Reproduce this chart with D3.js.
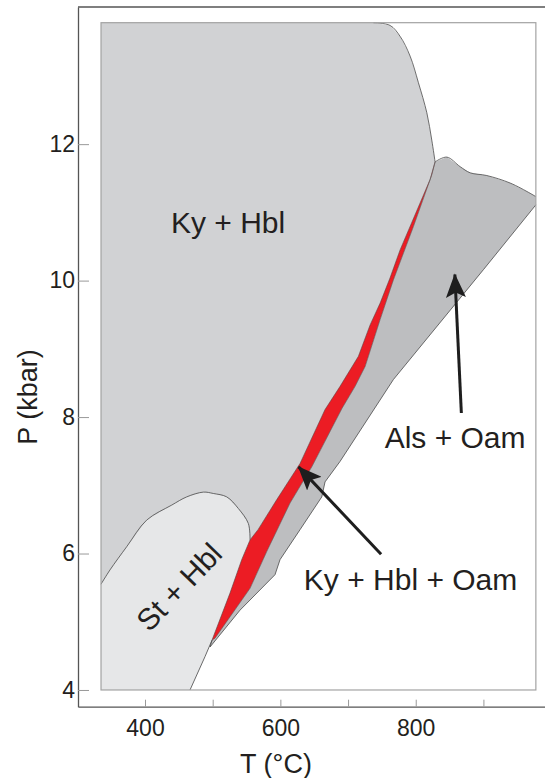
<!DOCTYPE html>
<html><head><meta charset="utf-8">
<script src="https://cdn.jsdelivr.net/npm/d3@7"></script>
<style>html,body{margin:0;padding:0;background:#fff;} svg{display:block;font-family:"Liberation Sans",Arial,Helvetica,sans-serif;}</style>
</head><body><svg id="c" width="545" height="778"></svg>
<script>
// ---- data (T in °C, P in kbar) ----
const tTicks = [400, 500, 600, 700, 800, 900];
const tLabels = [400, 600, 800];
const pTicks = [4, 6, 8, 10, 12];
const plotBoxT = [335, 977.5];
const plotBoxP = [4, 13.78];

// Ky + Hbl upper boundary (top edge to apex)
const kyHblBoundary = [[335,13.78],[737.4,13.78],[762.1,13.74],[776.9,13.58],[791.7,13.29],[804.0,12.90],[816.4,12.46],[823.7,12.06],[828.6,11.74]];
// red field (Ky + Hbl + Oam): left edge (apex -> tip)
const redLeft = [[828.6,11.74],[821.2,11.48],[776.9,10.45],[762.1,10.04],[747.4,9.67],[732.6,9.35],[715.3,8.89],[688.2,8.45],[666.0,8.11],[629.1,7.32],[594.7,6.79],[567.0,6.35],[555.2,6.20],[542.9,5.91],[525.6,5.42],[499.0,4.73]];
// red field right edge (tip -> apex)
const redRight = [[499.0,4.73],[503.5,4.76],[555.2,5.49],[579.9,6.03],[614.3,6.74],[646.4,7.27],[691.2,8.13],[710.4,8.45],[725.2,8.74],[747.4,9.43],[767.0,10.01],[796.5,10.79],[823.7,11.55],[828.6,11.74]];
// Als + Oam upper boundary (apex -> right edge)
const alsOamTop = [[828.6,11.74],[845.9,11.81],[865.6,11.67],[880.4,11.58],[905.0,11.54],[939.5,11.43],[969.0,11.28],[977.5,11.23]];
// Als + Oam lower boundary (right edge -> tip)
const alsOamLower = [[977.5,11.11],[900.0,10.16],[767.0,8.55],[688.2,7.35],[666.0,7.05],[661.2,6.83],[629.1,6.35],[599.5,5.91],[592.1,5.69],[540.4,5.17],[496.1,4.63],[499.0,4.73]];
// St + Hbl upper boundary (left edge -> red field)
const stHblTop = [[335,5.55],[348.3,5.76],[373.0,6.10],[402.5,6.49],[439.5,6.71],[461.6,6.83],[486.2,6.90],[500.9,6.88],[520.8,6.83],[537.9,6.66],[552.7,6.44],[555.2,6.20]];
// St + Hbl lower boundary (tip -> bottom)
const stHblLower = [[499.0,4.73],[488.7,4.49],[466.5,4.0]];

const labels = [
  {text:"Ky + Hbl", T:522.7, P:10.70, rot:0},
  {text:"Als + Oam", T:858.2, P:7.54, rot:0},
  {text:"Ky + Hbl + Oam", T:792.4, P:5.47, rot:0},
  {text:"St + Hbl", T:450.3, P:5.51, rot:-46}
];
const arrows = [
  {from:[867.4,8.06], to:[857.8,10.09]},
  {from:[748.8,5.99], to:[626.9,7.27]}
];

// ---- scales ----
const svg = d3.select("#c");
const x = d3.scaleLinear().domain([301, 991]).range([78, 545]);
const y = d3.scaleLinear().domain([3.755, 14.01]).range([706.7, 7]);
const line = d3.line().x(d => x(d[0])).y(d => y(d[1]));
const smooth = d3.line().x(d => x(d[0])).y(d => y(d[1])).curve(d3.curveCatmullRom.alpha(0.5));

// plot box
svg.append("rect")
  .attr("x", x(plotBoxT[0])).attr("y", y(plotBoxP[1]))
  .attr("width", x(plotBoxT[1]) - x(plotBoxT[0]))
  .attr("height", y(plotBoxP[0]) - y(plotBoxP[1]))
  .attr("fill", "#fff").attr("stroke", "none");

// Ky + Hbl
const kyPoly = [[335,4]].concat(kyHblBoundary, redLeft.slice(1), stHblLower.slice(1));
svg.append("path").attr("d", line(kyPoly) + "Z").attr("fill", "#d1d2d4");
// St + Hbl
const stPoly = stHblTop.concat(redLeft.slice(redLeft.findIndex(d => d[0] === 555.2) + 1), stHblLower.slice(1), [[335,4]]);
svg.append("path").attr("d", line(stPoly) + "Z").attr("fill", "#e6e7e8");
// Als + Oam
const alsPoly = redRight.concat(alsOamTop.slice(1), alsOamLower);
svg.append("path").attr("d", line(alsPoly) + "Z").attr("fill", "#bdbec0");
// red
const redPoly = redLeft.concat(redRight.slice(1));
svg.append("path").attr("d", line(redPoly) + "Z").attr("fill", "#ec1c24");

// boundaries
const bnd = (pts, gen, w, c) => svg.append("path").attr("d", gen(pts)).attr("fill", "none")
  .attr("stroke", c || "#4a4a4a").attr("stroke-width", w || 0.8).attr("stroke-linejoin", "round");
bnd(kyHblBoundary.slice(1), smooth);
bnd(stHblTop, smooth);
bnd(stHblLower, line);
bnd(redLeft, line, 0.6, "#5a3a3a");
bnd(redRight, line, 0.6, "#555");
bnd(alsOamTop, smooth);
bnd(alsOamLower, line);

// plot box border
svg.append("rect")
  .attr("x", x(plotBoxT[0])).attr("y", y(plotBoxP[1]))
  .attr("width", x(plotBoxT[1]) - x(plotBoxT[0]))
  .attr("height", y(plotBoxP[0]) - y(plotBoxP[1]))
  .attr("fill", "none").attr("stroke", "#a3a3a3").attr("stroke-width", 1.2);

// axes
const xAxis = d3.axisBottom(x).tickValues(tTicks).tickSize(-7).tickSizeOuter(0).tickPadding(13)
  .tickFormat(d => tLabels.includes(d) ? d : "");
const gx = svg.append("g").attr("transform", `translate(0,${y.range()[0]})`).call(xAxis);
const yAxis = d3.axisLeft(y).tickValues(pTicks).tickSize(-11).tickSizeOuter(0).tickPadding(3);
const gy = svg.append("g").attr("transform", `translate(${x.range()[0]},0)`).call(yAxis);
[gx, gy].forEach(g => {
  g.select(".domain").attr("stroke", "#555").attr("stroke-width", 1.3);
  g.selectAll(".tick line").attr("stroke", "#999").attr("stroke-width", 1);
  g.selectAll(".tick text").attr("fill", "#231f20").attr("font-size", 23)
    .attr("font-family", '"Liberation Sans",Arial,sans-serif');
});
// top frame line
svg.append("line").attr("x1", x.range()[0]).attr("x2", x.range()[1])
  .attr("y1", y.range()[1]).attr("y2", y.range()[1]).attr("stroke", "#555").attr("stroke-width", 1.3);

// axis titles
svg.append("text").attr("x", 276).attr("y", 773).attr("text-anchor", "middle")
  .attr("font-size", 27).attr("fill", "#231f20").text("T (°C)");
svg.append("text").attr("transform", "translate(37,397) rotate(-90)").attr("text-anchor", "middle")
  .attr("font-size", 27).attr("fill", "#231f20").text("P (kbar)");

// arrows
const defs = svg.append("defs");
defs.append("marker").attr("id", "ah").attr("viewBox", "0 0 24 20").attr("refX", 23).attr("refY", 10)
  .attr("markerWidth", 24).attr("markerHeight", 20).attr("markerUnits", "userSpaceOnUse").attr("orient", "auto")
  .append("path").attr("d", "M0,0 L24,10 L0,20 L5,10 Z").attr("fill", "#1e1e1e");
arrows.forEach(a => {
  svg.append("line").attr("x1", x(a.from[0])).attr("y1", y(a.from[1]))
    .attr("x2", x(a.to[0])).attr("y2", y(a.to[1]))
    .attr("stroke", "#1e1e1e").attr("stroke-width", 3).attr("marker-end", "url(#ah)");
});

// region labels
labels.forEach(l => {
  const t = svg.append("text").attr("text-anchor", "middle").attr("font-size", 30).attr("fill", "#231f20").text(l.text);
  if (l.rot) t.attr("transform", `translate(${x(l.T)},${y(l.P)}) rotate(${l.rot})`).attr("dy", "0.35em");
  else t.attr("x", x(l.T)).attr("y", y(l.P));
});
</script></body></html>
